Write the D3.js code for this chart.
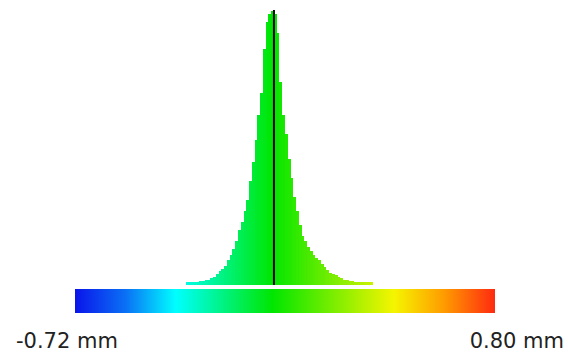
<!DOCTYPE html>
<html>
<head>
<meta charset="utf-8">
<script src="https://cdn.jsdelivr.net/npm/d3@7"></script>
<style>
html,body{margin:0;padding:0;background:#fff;}
svg{display:block;}
</style>
</head>
<body>
<svg id="chart" width="568" height="354"></svg>
<script>
// ---- data ----
const rangeLabels = ["-0.72 mm", "0.80 mm"];
const valueMin = -0.72, valueMax = 0.80;
const binWidth = 0.01;
const binStart = -0.32; // left edge of first bin
// relative bin heights (peak = 100)
const binCounts = [
  1,1,1,1,1,1.5,1.5,2,2,2.5,3,4,5,6,7,9,11,13,16,20,23,27,31,38,45,53,62,70,86,96,99,100,
  99,92,74,62,55,46,39,32,27,22,18,16,14,12.5,11,10,9,7.5,6.5,5.5,4.5,4,3.5,3,2.5,2,2,1.5,1.5,1.2,1,1,1,1,1,1
];
const meanValue = 0.0;
const colorStopPos = [0, 0.12, 0.24, 0.47, 0.76, 0.88, 1];
const colorStopCol = ["#0a14ea", "#0a70f5", "#00ffff", "#00e600", "#f5f500", "#ff9a00", "#ff2a10"];

// ---- chart ----
const svg = d3.select("#chart");
const x = d3.scaleLinear().domain([valueMin, valueMax]).range([75, 495]);
const y = d3.scaleLinear().domain([0, 100]).range([285, 11]);
const color = d3.scaleLinear()
  .domain(colorStopPos.map(p => valueMin + p * (valueMax - valueMin)))
  .range(colorStopCol)
  .interpolate(d3.interpolateRgb);

const bins = binCounts.map((c, i) => ({x0: binStart + i * binWidth, x1: binStart + (i + 1) * binWidth, c}));

svg.append("g").attr("shape-rendering", "crispEdges")
  .selectAll("rect").data(bins).join("rect")
  .attr("x", d => Math.round(x(d.x0)))
  .attr("width", d => Math.round(x(d.x1)) - Math.round(x(d.x0)))
  .attr("y", d => Math.round(y(d.c)))
  .attr("height", d => Math.round(y(0)) - Math.round(y(d.c)))
  .attr("fill", d => color((d.x0 + d.x1) / 2));

svg.append("line")
  .attr("x1", x(meanValue)).attr("x2", x(meanValue))
  .attr("y1", 10).attr("y2", y(0))
  .attr("stroke", "#000").attr("stroke-width", 2);

const defs = svg.append("defs");
const grad = defs.append("linearGradient").attr("id", "cbar")
  .attr("x1", "0%").attr("x2", "100%").attr("y1", "0%").attr("y2", "0%");
colorStopPos.forEach((p, i) => grad.append("stop").attr("offset", (p * 100) + "%").attr("stop-color", colorStopCol[i]));

svg.append("rect")
  .attr("x", x(valueMin)).attr("y", 289)
  .attr("width", x(valueMax) - x(valueMin)).attr("height", 24)
  .attr("fill", "url(#cbar)");

svg.append("text").attr("x", 16).attr("y", 348)
  .attr("font-family", "DejaVu Sans").attr("font-size", 21).attr("fill", "#222")
  .text(rangeLabels[0]);
svg.append("text").attr("x", 564).attr("y", 348).attr("text-anchor", "end")
  .attr("font-family", "DejaVu Sans").attr("font-size", 21).attr("fill", "#222")
  .text(rangeLabels[1]);
</script>
</body>
</html>
